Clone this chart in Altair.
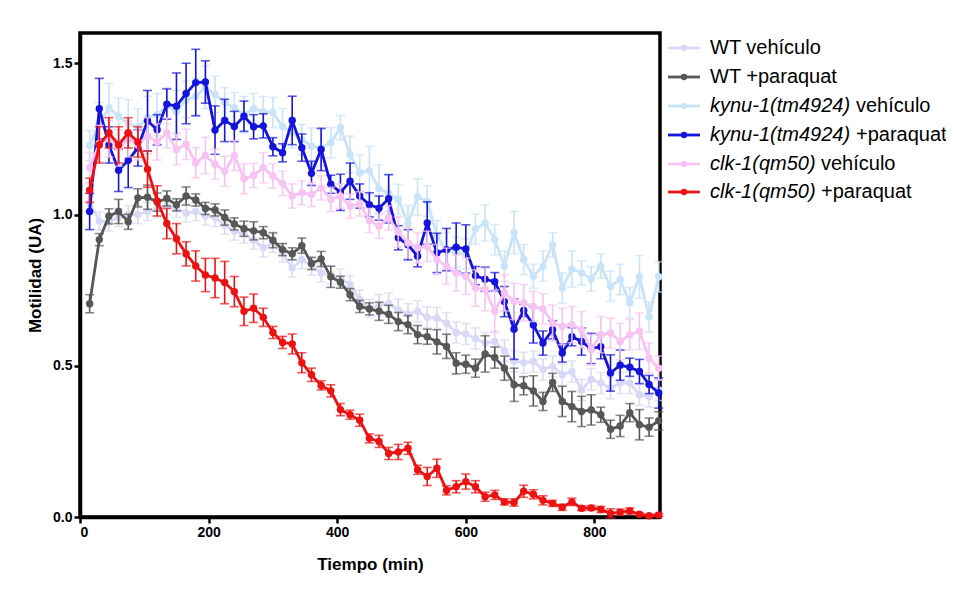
import altair as alt
import pandas as pd

# ---------------- data ----------------
time_min = list(range(15, 901, 15))  # 60 time points

series_names = [
    "WT vehículo",
    "WT +paraquat",
    "kynu-1(tm4924) vehículo",
    "kynu-1(tm4924) +paraquat",
    "clk-1(qm50) vehículo",
    "clk-1(qm50) +paraquat",
]
legend_italic = ["", "", "kynu-1(tm4924)", "kynu-1(tm4924)", "clk-1(qm50)", "clk-1(qm50)"]
legend_plain = ["WT vehículo", "WT +paraquat", "vehículo", "+paraquat", "vehículo", "+paraquat"]
series_colors = ["#d9d9f7", "#555855", "#c9e3f8", "#1414dc", "#f7c3f3", "#ee1111"]

wt_veh = [1.039, 0.978, 0.975, 0.99, 1.0, 1.0, 1.01, 1.02, 1.03, 1.02,
          1.005, 1.01, 0.995, 0.99, 0.965, 0.945, 0.935, 0.915, 0.89, 0.905,
          0.873, 0.823, 0.851, 0.83, 0.807, 0.80, 0.79, 0.768, 0.72, 0.69,
          0.70, 0.705, 0.685, 0.67, 0.68, 0.66, 0.658, 0.64, 0.61, 0.605,
          0.59, 0.575, 0.58, 0.55, 0.515, 0.51, 0.514, 0.488, 0.498, 0.47,
          0.481, 0.42, 0.455, 0.443, 0.426, 0.443, 0.443, 0.404, 0.398, 0.42]
wt_veh_err = [0.03, 0.03, 0.03, 0.03, 0.03, 0.03, 0.03, 0.03, 0.03, 0.03,
              0.03, 0.03, 0.03, 0.03, 0.03, 0.03, 0.03, 0.03, 0.03, 0.03,
              0.03, 0.03, 0.03, 0.03, 0.03, 0.03, 0.03, 0.03, 0.03, 0.03,
              0.035, 0.035, 0.035, 0.035, 0.035, 0.035, 0.035, 0.035, 0.035, 0.035,
              0.035, 0.035, 0.035, 0.035, 0.035, 0.035, 0.035, 0.035, 0.035, 0.035,
              0.035, 0.035, 0.035, 0.035, 0.035, 0.035, 0.035, 0.035, 0.035, 0.035]

wt_pq = [0.705, 0.917, 0.994, 1.01, 0.976, 1.055, 1.057, 1.041, 1.053, 1.032,
         1.061, 1.048, 1.02, 1.015, 0.99, 0.969, 0.953, 0.946, 0.94, 0.915,
         0.884, 0.87, 0.897, 0.838, 0.853, 0.794, 0.776, 0.735, 0.696, 0.688,
         0.68, 0.67, 0.646, 0.636, 0.603, 0.596, 0.579, 0.564, 0.508, 0.505,
         0.492, 0.539, 0.527, 0.492, 0.437, 0.434, 0.417, 0.382, 0.445, 0.382,
         0.365, 0.349, 0.354, 0.338, 0.29, 0.301, 0.345, 0.305, 0.297, 0.318]
wt_pq_err = [0.03, 0.02, 0.025, 0.04, 0.025, 0.03, 0.04, 0.03, 0.025, 0.02,
             0.03, 0.02, 0.02, 0.02, 0.025, 0.02, 0.025, 0.03, 0.02, 0.025,
             0.02, 0.02, 0.025, 0.02, 0.025, 0.035, 0.02, 0.02, 0.02, 0.02,
             0.03, 0.03, 0.03, 0.03, 0.03, 0.025, 0.04, 0.04, 0.035, 0.03,
             0.03, 0.06, 0.035, 0.04, 0.055, 0.03, 0.05, 0.03, 0.03, 0.05,
             0.05, 0.05, 0.05, 0.025, 0.03, 0.035, 0.03, 0.05, 0.03, 0.03]

kynu_veh = [1.228, 1.30, 1.353, 1.325, 1.30, 1.29, 1.32, 1.33, 1.36, 1.34,
            1.38, 1.39, 1.42, 1.397, 1.37, 1.353, 1.33, 1.35, 1.34, 1.337,
            1.29, 1.27, 1.248, 1.226, 1.221, 1.237, 1.287, 1.199, 1.138, 1.145,
            1.085, 1.07, 1.05, 0.97, 1.058, 1.044, 0.93, 0.88, 0.875, 0.87,
            0.952, 0.972, 0.917, 0.829, 0.94, 0.851, 0.796, 0.829, 0.90, 0.757,
            0.82, 0.807, 0.787, 0.829, 0.763, 0.785, 0.708, 0.794, 0.661, 0.794]
kynu_veh_err = [0.05, 0.07, 0.08, 0.06, 0.08, 0.06, 0.07, 0.07, 0.06, 0.07,
                0.06, 0.06, 0.07, 0.06, 0.05, 0.05, 0.06, 0.05, 0.05, 0.05,
                0.06, 0.05, 0.05, 0.06, 0.06, 0.05, 0.04, 0.06, 0.06, 0.08,
                0.08, 0.06, 0.05, 0.06, 0.06, 0.05, 0.05, 0.06, 0.05, 0.05,
                0.05, 0.06, 0.05, 0.05, 0.07, 0.05, 0.04, 0.05, 0.04, 0.05,
                0.06, 0.04, 0.04, 0.04, 0.05, 0.05, 0.05, 0.07, 0.05, 0.05]

kynu_pq = [1.01, 1.35, 1.23, 1.146, 1.179, 1.22, 1.31, 1.28, 1.365, 1.358,
           1.40, 1.436, 1.438, 1.279, 1.311, 1.291, 1.325, 1.29, 1.293, 1.224,
           1.204, 1.311, 1.221, 1.136, 1.215, 1.10, 1.073, 1.11, 1.061, 1.032,
           1.021, 1.052, 0.923, 0.90, 0.862, 0.972, 0.873, 0.884, 0.892, 0.886,
           0.798, 0.786, 0.778, 0.712, 0.621, 0.683, 0.635, 0.575, 0.619, 0.542,
           0.596, 0.58, 0.557, 0.563, 0.476, 0.502, 0.495, 0.481, 0.438, 0.41]
kynu_pq_err = [0.06, 0.1, 0.06, 0.07, 0.09, 0.06, 0.1, 0.05, 0.05, 0.11,
               0.1, 0.11, 0.07, 0.08, 0.07, 0.05, 0.05, 0.04, 0.04, 0.03,
               0.03, 0.08, 0.045, 0.04, 0.07, 0.03, 0.06, 0.06, 0.04, 0.04,
               0.04, 0.08, 0.04, 0.05, 0.035, 0.07, 0.065, 0.07, 0.08, 0.08,
               0.03, 0.04, 0.03, 0.05, 0.1, 0.02, 0.06, 0.04, 0.03, 0.03,
               0.03, 0.045, 0.05, 0.04, 0.06, 0.05, 0.03, 0.04, 0.03, 0.05]

clk_veh = [1.155, 1.235, 1.25, 1.22, 1.25, 1.23, 1.26, 1.24, 1.27, 1.215,
           1.232, 1.171, 1.195, 1.166, 1.143, 1.195, 1.118, 1.129, 1.155, 1.127,
           1.103, 1.061, 1.072, 1.066, 1.088, 1.05, 1.061, 1.028, 1.035, 0.98,
           0.961, 0.989, 0.942, 0.906, 0.89, 0.895, 0.851, 0.829, 0.807, 0.796,
           0.757, 0.752, 0.68, 0.741, 0.713, 0.708, 0.696, 0.688, 0.641, 0.63,
           0.636, 0.619, 0.553, 0.603, 0.608, 0.58, 0.603, 0.614, 0.525, 0.492]
clk_veh_err = [0.05, 0.06, 0.06, 0.06, 0.06, 0.05, 0.06, 0.06, 0.05, 0.05,
               0.05, 0.05, 0.06, 0.05, 0.05, 0.05, 0.05, 0.04, 0.05, 0.04,
               0.04, 0.04, 0.04, 0.04, 0.04, 0.04, 0.04, 0.04, 0.04, 0.04,
               0.04, 0.04, 0.05, 0.05, 0.05, 0.05, 0.05, 0.06, 0.06, 0.06,
               0.06, 0.07, 0.07, 0.06, 0.06, 0.06, 0.05, 0.05, 0.06, 0.06,
               0.06, 0.06, 0.05, 0.06, 0.05, 0.06, 0.05, 0.06, 0.05, 0.04]

clk_pq = [1.08, 1.23, 1.27, 1.23, 1.27, 1.24, 1.15, 1.045, 0.97, 0.92,
          0.87, 0.83, 0.80, 0.79, 0.775, 0.745, 0.68, 0.69, 0.66, 0.61,
          0.577, 0.572, 0.51, 0.47, 0.435, 0.417, 0.355, 0.338, 0.32, 0.26,
          0.25, 0.21, 0.215, 0.227, 0.156, 0.134, 0.161, 0.088, 0.10, 0.117,
          0.10, 0.067, 0.073, 0.05, 0.048, 0.085, 0.075, 0.055, 0.045, 0.032,
          0.05, 0.029, 0.03, 0.025, 0.012, 0.016, 0.02, 0.009, 0.004, 0.007]
clk_pq_err = [0.04, 0.06, 0.05, 0.06, 0.05, 0.05, 0.06, 0.05, 0.05, 0.05,
              0.04, 0.05, 0.055, 0.065, 0.07, 0.05, 0.047, 0.047, 0.03, 0.02,
              0.02, 0.033, 0.033, 0.022, 0.015, 0.02, 0.02, 0.015, 0.02, 0.015,
              0.02, 0.02, 0.025, 0.02, 0.015, 0.03, 0.03, 0.015, 0.02, 0.025,
              0.02, 0.015, 0.015, 0.01, 0.012, 0.02, 0.015, 0.015, 0.01, 0.01,
              0.012, 0.008, 0.008, 0.01, 0.015, 0.01, 0.01, 0.005, 0.005, 0.005]

series_values = [wt_veh, wt_pq, kynu_veh, kynu_pq, clk_veh, clk_pq]
series_errors = [wt_veh_err, wt_pq_err, kynu_veh_err, kynu_pq_err, clk_veh_err, clk_pq_err]

x_ticks = [0, 200, 400, 600, 800]
y_ticks = [0.0, 0.5, 1.0, 1.5]

# ---------------- layout constants ----------------
FONT = "Liberation Sans"
W, H = 580, 484
legend_rows_y = [15, 44, 73, 102, 131, 159]
legend_plain_offset = [0, 0, 146, 146, 111, 111]

x_enc = alt.X(
    "t:Q",
    scale=alt.Scale(domain=[0, 902], nice=False, zero=False),
    axis=alt.Axis(values=x_ticks, title="Tiempo (min)", format="d"),
)
y_enc = alt.Y(
    "v:Q",
    scale=alt.Scale(domain=[0, 1.6], nice=False),
    axis=alt.Axis(values=y_ticks, title="Motilidad (UA)", format=".1f"),
)

layers = []
for name, vals, errs, col in zip(series_names, series_values, series_errors, series_colors):
    df = pd.DataFrame({"t": time_min, "v": vals, "e": errs})
    base = alt.Chart(df).transform_calculate(lo="datum.v - datum.e", hi="datum.v + datum.e")
    bars = base.mark_rule(strokeWidth=1.6).encode(
        x=x_enc, y=alt.Y("lo:Q", scale=alt.Scale(domain=[0, 1.6], nice=False)), y2="hi:Q",
        color=alt.value(col))
    cap_lo = base.mark_tick(orient="horizontal", size=9, thickness=1.6).encode(
        x=x_enc, y=alt.Y("lo:Q", scale=alt.Scale(domain=[0, 1.6], nice=False)), color=alt.value(col))
    cap_hi = base.mark_tick(orient="horizontal", size=9, thickness=1.6).encode(
        x=x_enc, y=alt.Y("hi:Q", scale=alt.Scale(domain=[0, 1.6], nice=False)), color=alt.value(col))
    line = base.mark_line(strokeWidth=2.8).encode(x=x_enc, y=y_enc, color=alt.value(col))
    pts = base.mark_circle(size=55, opacity=1).encode(x=x_enc, y=y_enc, color=alt.value(col))
    layers += [bars, cap_lo, cap_hi, line, pts]

# ---------------- custom legend (mixed italic / roman text) ----------------
for name, ital, plain, off, col, ry in zip(series_names, legend_italic, legend_plain,
                                           legend_plain_offset, series_colors, legend_rows_y):
    one = alt.Chart(pd.DataFrame({"name": [name]}))
    layers.append(one.mark_rule(strokeWidth=2.8).encode(
        x=alt.value(588), x2=alt.value(620), y=alt.value(ry), color=alt.value(col)))
    layers.append(one.mark_circle(size=40, opacity=1).encode(
        x=alt.value(604), y=alt.value(ry), color=alt.value(col)))
    if ital:
        layers.append(one.mark_text(align="left", baseline="middle", font=FONT, fontSize=20,
                                    fontStyle="italic", color="black").encode(
            x=alt.value(630), y=alt.value(ry), text=alt.value(ital)))
    layers.append(one.mark_text(align="left", baseline="middle", font=FONT, fontSize=20,
                                color="black").encode(
        x=alt.value(630 + off), y=alt.value(ry), text=alt.value(plain)))

chart = (
    alt.layer(*layers)
    .properties(width=W, height=H, autosize=alt.AutoSizeParams(type="none"),
                padding={"left": 72, "top": 25, "right": 286, "bottom": 60},
                background="white")
    .configure_view(stroke="black", strokeWidth=3.5)
    .configure_axis(
        grid=False,
        domainColor="black", domainWidth=3.5,
        tickColor="black", tickWidth=2.5, tickSize=6,
        labelFont=FONT, labelFontSize=14, labelFontWeight="bold", labelColor="black",
        labelPadding=2,
        titleFont=FONT, titleFontSize=17, titleFontWeight="bold", titleColor="black",
    )
    .configure_axisX(titlePadding=17)
    .configure_axisY(titlePadding=8)
)

chart.save("out.html", embed_options={"renderer": "svg", "actions": False})
